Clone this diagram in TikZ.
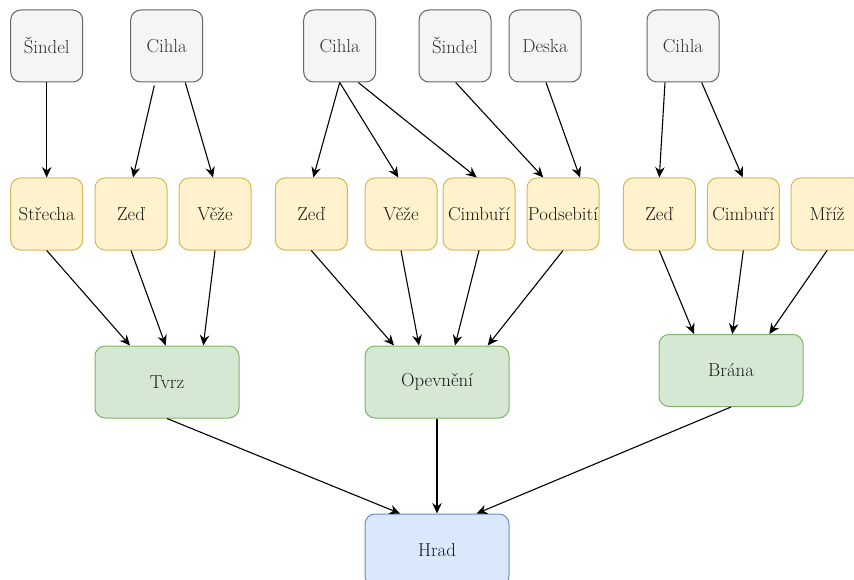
\documentclass[tikz,border=0pt]{standalone}
\usetikzlibrary{arrows.meta}
\definecolor{grayfill}{HTML}{F5F5F5}
\definecolor{graystroke}{HTML}{666666}
\definecolor{graytext}{HTML}{333333}
\definecolor{yelfill}{HTML}{FFF2CC}
\definecolor{yelstroke}{HTML}{D6B656}
\definecolor{grnfill}{HTML}{D5E8D4}
\definecolor{grnstroke}{HTML}{82B366}
\definecolor{blufill}{HTML}{DAE8FC}
\definecolor{blustroke}{HTML}{6C8EBF}
\definecolor{txt}{HTML}{1A1A1A}
\tikzset{
  box/.style={rounded corners=10pt, line width=1pt, minimum width=72pt, minimum height=72pt, inner sep=0pt,
    font=\fontsize{18.8}{22}\selectfont, text=txt},
  matbox/.style={box, fill=grayfill, draw=graystroke, text=graytext},
  partbox/.style={box, fill=yelfill, draw=yelstroke},
  secbox/.style={box, fill=grnfill, draw=grnstroke, minimum width=144pt},
  topbox/.style={box, fill=blufill, draw=blustroke, minimum width=144pt},
  conn/.style={line width=1.1pt, -{Stealth[length=10.5pt,width=9.5pt,inset=3.5pt]}}
}
\begin{document}
\begin{tikzpicture}[x=1pt,y=-1pt]
\useasboundingbox (0,0) rectangle (854,580);
% materials
\node[matbox] (s1) at (46.7,46) {Šindel};
\node[matbox] (c1) at (166.7,46) {Cihla};
\node[matbox] (c2) at (339.7,46) {Cihla};
\node[matbox] (s2) at (455,46) {Šindel};
\node[matbox] (d1) at (545,46) {Deska};
\node[matbox] (c3) at (683,46) {Cihla};
% parts
\node[partbox] (st) at (46.7,214) {Střecha};
\node[partbox] (z1) at (131,214) {Zeď};
\node[partbox] (v1) at (215,214) {Věže};
\node[partbox] (z2) at (311.3,214) {Zeď};
\node[partbox] (v2) at (401,214) {Věže};
\node[partbox] (cb1) at (479,214) {Cimbuří};
\node[partbox] (po) at (563,214) {Podsebití};
\node[partbox] (z3) at (659.3,214) {Zeď};
\node[partbox] (cb2) at (743.3,214) {Cimbuří};
\node[partbox] (mr) at (827,214) {Mříž};
% sections
\node[secbox] (tv) at (167,382) {Tvrz};
\node[secbox] (op) at (437,382) {Opevnění};
\node[secbox] (br) at (731,370.5) {Brána};
% castle
\node[topbox] (hr) at (437,550) {Hrad};
% material -> part
\draw[conn] (s1.south) -- (st.north);
\draw[conn] ([xshift=-12.4pt,yshift=-3pt]c1.south) -- ([xshift=2pt]z1.north);
\draw[conn] ([xshift=18.6pt]c1.south) -- ([xshift=-2pt]v1.north);
\draw[conn] (c2.south) -- ([xshift=2pt]z2.north);
\draw[conn] (c2.south) -- ([xshift=-2.7pt]v2.north);
\draw[conn] ([xshift=18.6pt]c2.south) -- ([xshift=-2.3pt]cb1.north);
\draw[conn] ([xshift=0.7pt]s2.south) -- ([xshift=-19.7pt]po.north);
\draw[conn] ([xshift=1pt]d1.south) -- ([xshift=17pt]po.north);
\draw[conn] ([xshift=-18pt]c3.south) -- (z3.north);
\draw[conn] ([xshift=18.7pt]c3.south) -- ([xshift=-0.6pt]cb2.north);
% part -> section
\draw[conn] (st.south) -- ([xshift=-37pt]tv.north);
\draw[conn] (z1.south) -- ([xshift=-1.3pt]tv.north);
\draw[conn] (v1.south) -- ([xshift=36.3pt]tv.north);
\draw[conn] (z2.south) -- ([xshift=-43pt]op.north);
\draw[conn] (v2.south) -- ([xshift=-18pt]op.north);
\draw[conn] (cb1.south) -- ([xshift=18pt]op.north);
\draw[conn] (po.south) -- ([xshift=50.7pt]op.north);
\draw[conn] (z3.south) -- ([xshift=-37pt]br.north);
\draw[conn] (cb2.south) -- ([xshift=1.3pt]br.north);
\draw[conn] (mr.south) -- ([xshift=38.3pt]br.north);
% section -> castle
\draw[conn] (tv.south) -- ([xshift=-37pt]hr.north);
\draw[conn] (op.south) -- (hr.north);
\draw[conn] (br.south) -- ([xshift=39.7pt]hr.north);
\end{tikzpicture}
\end{document}
